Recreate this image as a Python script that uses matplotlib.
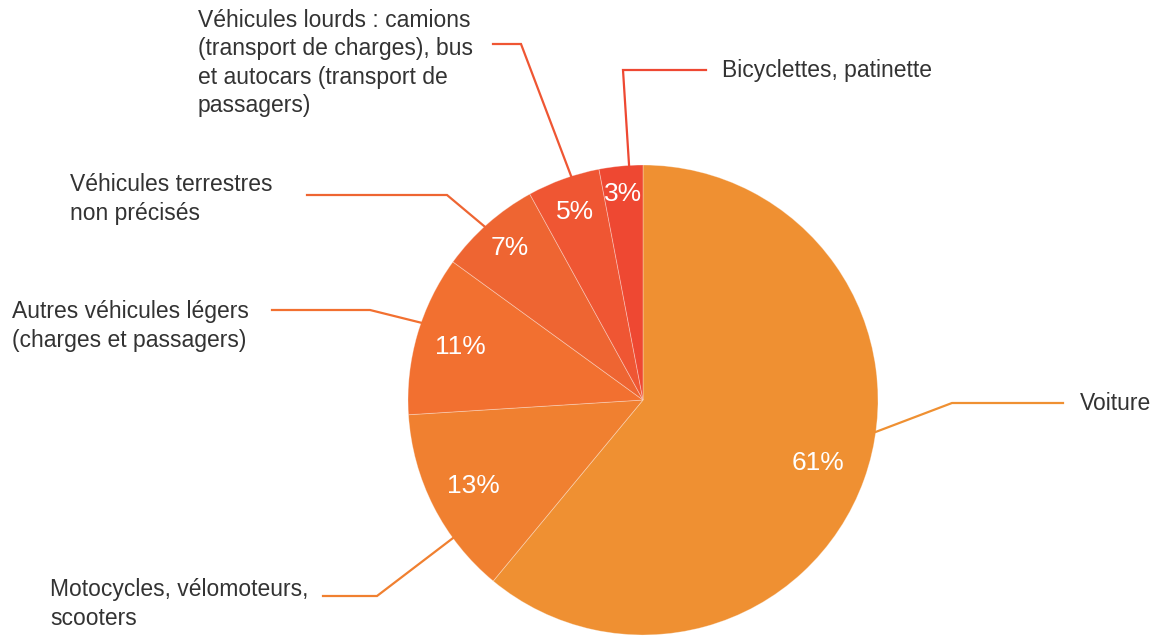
import numpy as np
import matplotlib.pyplot as plt

# data
categories = ["Voiture", "Motocycles, vélomoteurs,\nscooters",
              "Autres véhicules légers\n(charges et passagers)",
              "Véhicules terrestres\nnon précisés",
              "Véhicules lourds : camions\n(transport de charges), bus\net autocars (transport de\npassagers)",
              "Bicyclettes, patinette"]
shares = [61, 13, 11, 7, 5, 3]
colors = ["#EF9032", "#F08030", "#F27030", "#EE6532", "#EF5633", "#EE4832"]

# layout in pixels (figure is 1151 x 636, pie centre 643,400, radius 235)
W, H = 1151, 636
CX, CY, R = 643, 400, 235
pct_radius = [0.79, 0.81, 0.81, 0.86, 0.85, 0.88]
anchor_shift = [12, 9, -3, 1, -2, -2]          # degrees, leader start vs slice middle
elbows = [(952, 403), (377, 596), (370, 310), (447, 195), (521, 44), (623, 70)]
line_ends = [1063, 323, 272, 307, 493, 706]
text_pos = [(1080, 403), (50, 604), (12, 326), (70, 199), (198, 63), (722, 70)]

def to_data(px, py):
    return (px - CX) / R, (CY - py) / R

fig = plt.figure(figsize=(W / 100, H / 100), dpi=100)
ax = fig.add_axes([0, 0, 1, 1])
x0, y1 = to_data(0, 0)
x1, y0 = to_data(W, H)

wedges, _ = ax.pie(shares, colors=colors, startangle=90, counterclock=False,
                   radius=1, center=(0, 0), frame=True,
                   wedgeprops=dict(edgecolor=(1, 1, 1, 0.35), linewidth=0.6))
ax.set_xlim(x0, x1)
ax.set_ylim(y0, y1)
ax.set_aspect("equal")
ax.axis("off")

font = ["Liberation Sans", "DejaVu Sans"]
for i, w in enumerate(wedges):
    mid = np.deg2rad((w.theta1 + w.theta2) / 2)
    r = pct_radius[i]
    ax.text(r * np.cos(mid), r * np.sin(mid), f"{shares[i]}%", color="white",
            fontsize=19, ha="center", va="center", family=font)
    a = mid + np.deg2rad(anchor_shift[i])
    ex, ey = to_data(*elbows[i])
    lx, _ = to_data(line_ends[i], elbows[i][1])
    ax.plot([np.cos(a), ex, lx], [np.sin(a), ey, ey], color=colors[i],
            lw=1.6, solid_joinstyle="miter", clip_on=False)
    tx, ty = to_data(*text_pos[i])
    ax.text(tx, ty, categories[i], color="#333333", fontsize=16.5,
            ha="left", va="center", linespacing=1.28, family=font)

fig.savefig("out.png", dpi=100)
